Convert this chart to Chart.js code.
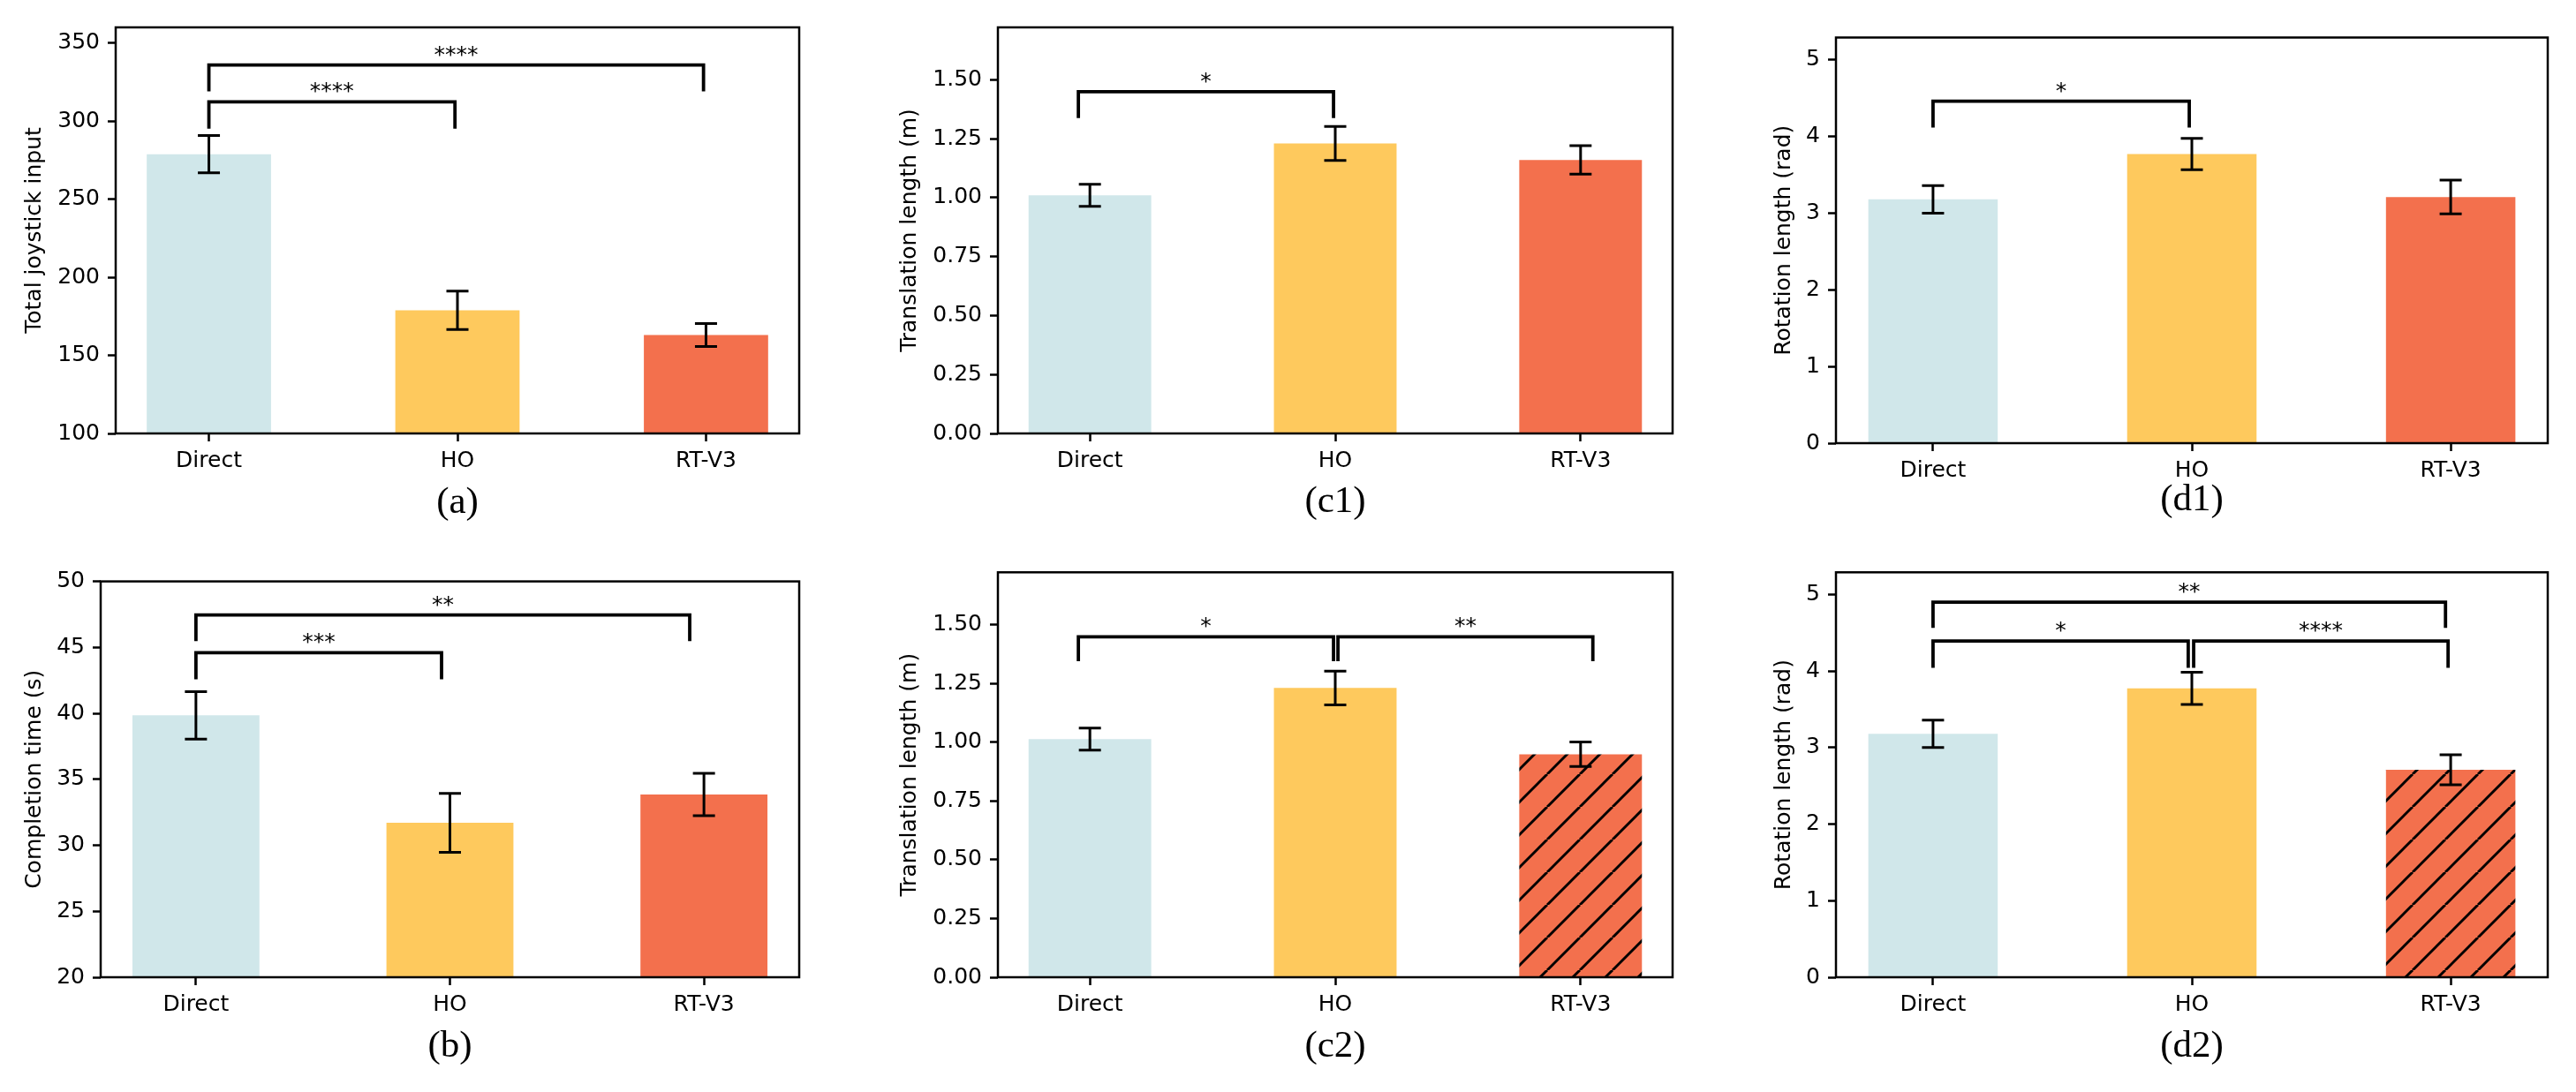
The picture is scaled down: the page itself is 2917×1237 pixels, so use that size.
<!DOCTYPE html>
<html>
<head>
<meta charset="utf-8">
<script src="https://cdn.jsdelivr.net/npm/chart.js@4.4.1/dist/chart.umd.min.js"></script>
<style>
  html, body { margin: 0; padding: 0; background: #fff; }
  #page { position: relative; width: 2917px; height: 1237px; overflow: hidden; }
  #page canvas { position: absolute; }
</style>
</head>
<body>
<div id="page"></div>
<script>
// categories and colours shared by every panel
const CATEGORIES = ['Direct', 'HO', 'RT-V3']
const BAR_COLORS = ['#d0e7ea', '#fec95d', '#f3704d']

// (a) total joystick input
const JOYSTICK_MEAN = [278.8, 178.8, 163.0]
const JOYSTICK_ERR = [11.9, 12.3, 7.3]
const JOYSTICK_TICKS = [100, 150, 200, 250, 300, 350]
const JOYSTICK_SIG = [[0, 0.99, 312.3, 295.2, '****'], [0, 1.99, 335.9, 319.0, '****']]

// (b) completion time
const TIME_MEAN = [39.85, 31.7, 33.85]
const TIME_ERR = [1.8, 2.23, 1.6]
const TIME_TICKS = [20, 25, 30, 35, 40, 45, 50]
const TIME_SIG = [[0, 0.967, 44.6, 42.58, '***'], [0, 1.944, 47.45, 45.47, '**']]

// (c1) / (c2) translation length
const TRANS1_MEAN = [1.01, 1.23, 1.16]
const TRANS1_ERR = [0.047, 0.072, 0.06]
const TRANS2_MEAN = [1.013, 1.23, 0.948]
const TRANS2_ERR = [0.047, 0.072, 0.052]
const TRANS_TICKS = [0, 0.25, 0.5, 0.75, 1.0, 1.25, 1.5]
const TRANS1_SIG = [[-0.047, 0.993, 1.449, 1.337, '*']]
const TRANS2_SIG = [[-0.047, 0.993, 1.448, 1.344, '*'], [1.011, 2.05, 1.448, 1.344, '**']]

// (d1) / (d2) rotation length
const ROT1_MEAN = [3.18, 3.77, 3.21]
const ROT1_ERR = [0.18, 0.205, 0.22]
const ROT2_MEAN = [3.18, 3.775, 2.71]
const ROT2_ERR = [0.18, 0.21, 0.197]
const ROT_TICKS = [0, 1, 2, 3, 4, 5]
const ROT1_SIG = [[0, 0.99, 4.46, 4.115, '*']]
const ROT2_SIG = [[0, 0.986, 4.392, 4.043, '*'], [1.007, 1.99, 4.392, 4.043, '****'], [0, 1.98, 4.90, 4.564, '**']]

Chart.defaults.font.family = '"DejaVu Sans"'
Chart.defaults.font.size = 25
Chart.defaults.color = '#000'

const TICK_FONT = 25, CAPTION_FONT = 43

// cell = canvas rect, box = plot area on the page
const panels = [
  { caption: '(a)', yLabel: 'Total joystick input', mean: JOYSTICK_MEAN, err: JOYSTICK_ERR, ticks: JOYSTICK_TICKS,
    yMin: 100, yMax: 360, fmt: v => String(v), sig: JOYSTICK_SIG, hatch: false,
    cell: [0, 0, 975, 618], box: [131, 31, 905, 491], yTitleX: 39, captionY: 570 },
  { caption: '(c1)', yLabel: 'Translation length (m)', mean: TRANS1_MEAN, err: TRANS1_ERR, ticks: TRANS_TICKS,
    yMin: 0, yMax: 1.722, fmt: v => v.toFixed(2), sig: TRANS1_SIG, hatch: false,
    cell: [975, 0, 1955, 618], box: [1130, 31, 1894, 491], yTitleX: 1030.6, captionY: 569 },
  { caption: '(d1)', yLabel: 'Rotation length (rad)', mean: ROT1_MEAN, err: ROT1_ERR, ticks: ROT_TICKS,
    yMin: 0, yMax: 5.29, fmt: v => String(v), sig: ROT1_SIG, hatch: false,
    cell: [1955, 0, 2917, 618], box: [2079, 42.5, 2885, 502], yTitleX: 2020, captionY: 567 },
  { caption: '(b)', yLabel: 'Completion time (s)', mean: TIME_MEAN, err: TIME_ERR, ticks: TIME_TICKS,
    yMin: 20, yMax: 50, fmt: v => String(v), sig: TIME_SIG, hatch: false,
    cell: [0, 618, 975, 1237], box: [114, 658.6, 905, 1107], yTitleX: 39.7, captionY: 1185.5 },
  { caption: '(c2)', yLabel: 'Translation length (m)', mean: TRANS2_MEAN, err: TRANS2_ERR, ticks: TRANS_TICKS,
    yMin: 0, yMax: 1.722, fmt: v => v.toFixed(2), sig: TRANS2_SIG, hatch: true,
    cell: [975, 618, 1955, 1237], box: [1130, 648.3, 1894, 1107], yTitleX: 1030.6, captionY: 1185.5 },
  { caption: '(d2)', yLabel: 'Rotation length (rad)', mean: ROT2_MEAN, err: ROT2_ERR, ticks: ROT_TICKS,
    yMin: 0, yMax: 5.29, fmt: v => String(v), sig: ROT2_SIG, hatch: true,
    cell: [1955, 618, 2917, 1237], box: [2079, 648.3, 2885, 1107], yTitleX: 2020, captionY: 1185.5 }
]

function hatchPattern(ctx, color) {
  const s = 37
  const c = document.createElement('canvas')
  c.width = s
  c.height = s
  const g = c.getContext('2d')
  g.fillStyle = color
  g.fillRect(0, 0, s, s)
  g.strokeStyle = '#000'
  g.lineWidth = 3
  for (const k of [-1, 0, 1]) {
    g.beginPath()
    g.moveTo(k * s, s)
    g.lineTo(k * s + s, 0)
    g.stroke()
  }
  return ctx.createPattern(c, 'repeat')
}

// error bars, significance brackets and the box around the axes
function overlay(mean, err, sig) {
  return {
    id: 'overlay',
    afterDatasetsDraw(chart) {
      const { ctx, chartArea: a, scales: { x, y } } = chart
      ctx.save()
      ctx.strokeStyle = '#000'
      ctx.fillStyle = '#000'
      ctx.lineWidth = 3
      mean.forEach((m, i) => {
        const px = x.getPixelForValue(i)
        const hi = y.getPixelForValue(m + err[i])
        const lo = y.getPixelForValue(m - err[i])
        ctx.beginPath()
        ctx.moveTo(px, hi); ctx.lineTo(px, lo)
        ctx.moveTo(px - 12.5, hi); ctx.lineTo(px + 12.5, hi)
        ctx.moveTo(px - 12.5, lo); ctx.lineTo(px + 12.5, lo)
        ctx.stroke()
      })
      ctx.lineWidth = 3.8
      ctx.lineJoin = 'miter'
      ctx.font = TICK_FONT + 'px "DejaVu Sans"'
      ctx.textAlign = 'center'
      ctx.textBaseline = 'alphabetic'
      sig.forEach(([x1, x2, top, tip, label]) => {
        const l = x.getPixelForValue(x1), r = x.getPixelForValue(x2)
        const t = y.getPixelForValue(top), b = y.getPixelForValue(tip)
        ctx.beginPath()
        ctx.moveTo(l, b); ctx.lineTo(l, t); ctx.lineTo(r, t); ctx.lineTo(r, b)
        ctx.stroke()
        ctx.fillText(label, (l + r) / 2, t - 4)
      })
      ctx.lineWidth = 2.5
      ctx.strokeRect(a.left, a.top, a.width, a.height)
      ctx.restore()
    }
  }
}

const page = document.getElementById('page')

panels.forEach(p => {
  const [cl, ct, cr, cb] = p.cell
  const [bl, bt, br, bb] = p.box
  const yWidth = bl - p.yTitleX + TICK_FONT * 1.2 / 2
  const xHeight = p.captionY - bb + CAPTION_FONT * 1.2 / 2

  const canvas = document.createElement('canvas')
  canvas.width = cr - cl
  canvas.height = cb - ct
  canvas.style.left = cl + 'px'
  canvas.style.top = ct + 'px'
  page.appendChild(canvas)
  const ctx = canvas.getContext('2d')

  const colors = BAR_COLORS.slice()
  if (p.hatch) colors[2] = hatchPattern(ctx, BAR_COLORS[2])

  new Chart(ctx, {
    type: 'bar',
    data: {
      datasets: [{
        data: p.mean.map((v, i) => ({ x: i, y: v })),
        backgroundColor: colors,
        borderWidth: 0,
        categoryPercentage: 1,
        barPercentage: 0.5
      }]
    },
    options: {
      responsive: false,
      animation: false,
      devicePixelRatio: 1,
      layout: {
        autoPadding: false,
        padding: {
          left: bl - yWidth - cl,
          top: bt - ct,
          right: cr - br,
          bottom: cb - bb - xHeight
        }
      },
      plugins: { legend: { display: false }, tooltip: { enabled: false } },
      scales: {
        x: {
          type: 'linear',
          min: -0.375,
          max: 2.375,
          offset: false,
          afterBuildTicks: s => { s.ticks = CATEGORIES.map((c, i) => ({ value: i })) },
          afterFit: s => { s.height = xHeight; s.paddingLeft = 0; s.paddingRight = 0 },
          ticks: { callback: v => CATEGORIES[v], padding: 7, maxRotation: 0, autoSkip: false },
          grid: { display: true, offset: false, drawOnChartArea: false, tickLength: 9, tickWidth: 2.5, tickColor: '#000' },
          border: { display: false },
          title: {
            display: true,
            text: p.caption,
            padding: 0,
            font: { family: '"Liberation Serif"', size: CAPTION_FONT, lineHeight: 1.2 }
          }
        },
        y: {
          min: p.yMin,
          max: p.yMax,
          afterBuildTicks: s => { s.ticks = p.ticks.map(v => ({ value: v })) },
          afterFit: s => { s.width = yWidth; s.paddingTop = 0; s.paddingBottom = 0 },
          ticks: { callback: v => p.fmt(v), padding: 9 },
          grid: { display: true, drawOnChartArea: false, tickLength: 9, tickWidth: 2.5, tickColor: '#000' },
          border: { display: false },
          title: { display: true, text: p.yLabel, padding: 0, font: { size: TICK_FONT, lineHeight: 1.2 } }
        }
      }
    },
    plugins: [overlay(p.mean, p.err, p.sig)]
  })
})
</script>
</body>
</html>
